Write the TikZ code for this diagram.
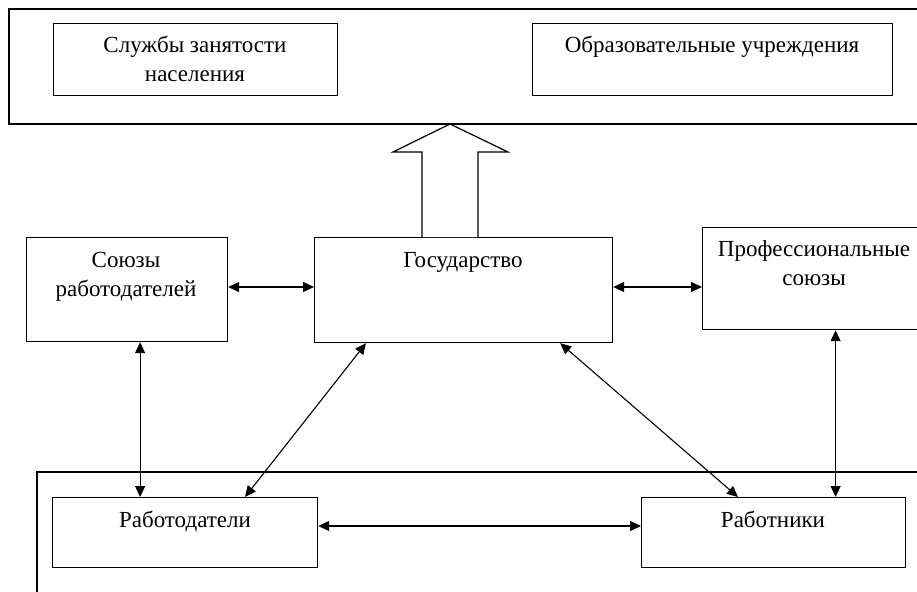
\documentclass[tikz,border=0pt]{standalone}
\usepackage{fontspec}
\setmainfont{Liberation Serif}
\usetikzlibrary{arrows.meta,calc}
\tikzset{
  box/.style={draw, line width=1.2pt, rectangle, inner sep=0pt, anchor=north west},
  lbl/.style={font=\fontsize{23}{29}\selectfont, align=center, inner sep=0pt, anchor=base},
  dbl/.style={line width=1.1pt, {Triangle[length=11pt,width=10pt]}-{Triangle[length=11pt,width=10pt]}},
  frame/.style={line width=1.2pt},
}
\begin{document}
\begin{tikzpicture}[x=1pt,y=-1pt]
\clip (0,0) rectangle (917,591);
\fill[white] (0,0) rectangle (917,591);
% outer frames
\draw[frame] (917,9) -- (9,9) -- (9,124) -- (917,124);
\draw[frame] (917,472) -- (37,472) -- (37,600);
% top boxes
\node[box, minimum width=284pt, minimum height=72pt] (sz) at (53,23) {};
\node[lbl] at (195,53) {Службы занятости};
\node[lbl] at (195,82) {населения};
\node[box, minimum width=360pt, minimum height=72pt] (ou) at (532,23) {};
\node[lbl] at (712,53) {Образовательные учреждения};
% middle boxes
\node[box, minimum width=201pt, minimum height=104pt] (sr) at (26,237) {};
\node[lbl] at (126,267) {Союзы};
\node[lbl] at (126,296) {работодателей};
\node[box, minimum width=298pt, minimum height=105pt] (gos) at (314,237) {};
\node[lbl] at (463,267) {Государство};
\node[box, minimum width=228pt, minimum height=102pt] (prof) at (702,227) {};
\node[lbl] at (814,256) {Профессиональные};
\node[lbl] at (814,285) {союзы};
% bottom boxes
\node[box, minimum width=265pt, minimum height=70pt] (rd) at (52,497) {};
\node[lbl] at (185,527) {Работодатели};
\node[box, minimum width=264pt, minimum height=70pt] (rk) at (641,497) {};
\node[lbl] at (773,527) {Работники};
% big hollow arrow
\coordinate (tip) at (450,124);
\draw[line width=1.2pt, fill=white] (422,237) -- (422,152) -- (393,152) -- (tip) -- (508,152) -- (478,152) -- (478,237);
% connectors
\draw[dbl] (sr.east |- 0,287) -- (gos.west |- 0,287);
\draw[dbl] (gos.east |- 0,287) -- (prof.west |- 0,287);
\draw[dbl] ([xshift=13pt]sr.south) -- ([xshift=13pt]sr.south |- rd.north);
\draw[dbl] ([xshift=19pt]prof.south) -- ([xshift=19pt]prof.south |- rk.north);
\draw[dbl] ([xshift=52pt]gos.south west) -- ([xshift=193pt]rd.north west);
\draw[dbl] ([xshift=-53pt]gos.south east) -- ([xshift=97pt]rk.north west);
\draw[dbl] (rd.east |- 0,526) -- (rk.west |- 0,526);
\end{tikzpicture}
\end{document}
